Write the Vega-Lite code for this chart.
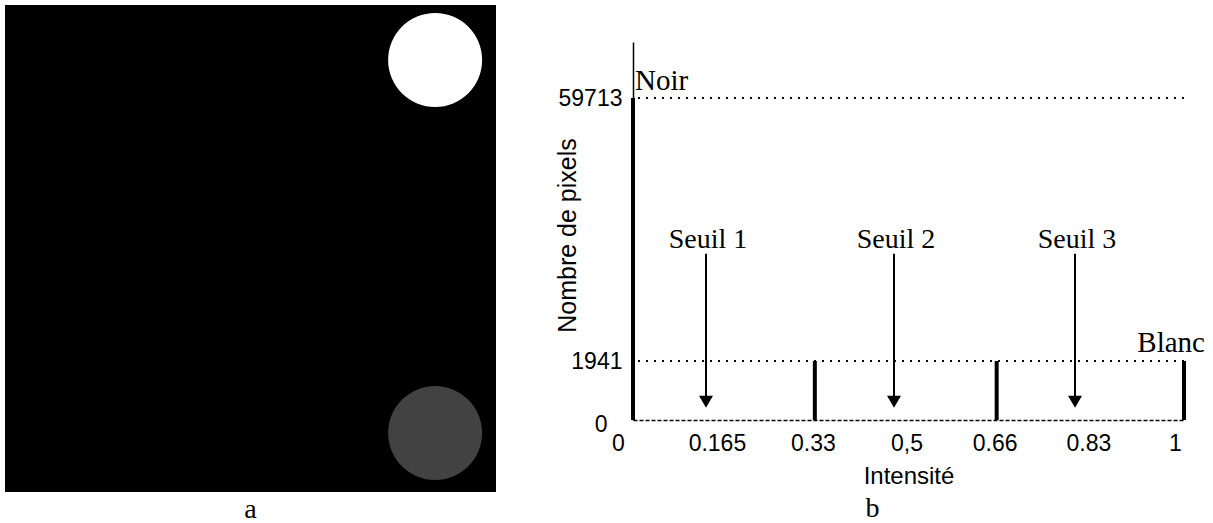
{
  "$schema": "https://vega.github.io/schema/vega-lite/v6.json",
  "background": "white",
  "padding": {"left": 5, "top": 5, "right": 0, "bottom": 0},
  "config": {"view": {"stroke": null}, "font": "Liberation Sans"},
  "spacing": 59,
  "hconcat": [
    {
      "width": 491,
      "height": 487,
      "title": {"text": "a", "orient": "bottom", "font": "Liberation Serif", "fontSize": 28, "fontWeight": "normal", "offset": 4, "color": "black"},
      "layer": [
        {
          "data": {"values": [{"objet": "fond", "x0": 0, "x1": 1, "y0": 0, "y1": 1}]},
          "mark": {"type": "rect", "color": "black"},
          "encoding": {
            "x": {"field": "x0", "type": "quantitative", "scale": {"domain": [0, 1]}, "axis": null},
            "x2": {"field": "x1"},
            "y": {"field": "y0", "type": "quantitative", "scale": {"domain": [0, 1]}, "axis": null},
            "y2": {"field": "y1"}
          }
        },
        {
          "data": {"values": [{"disque": "blanc", "x0": 0.876, "y0": 0.887}, {"disque": "bruité", "x0": 0.876, "y0": 0.121}]},
          "mark": {"type": "point", "shape": "circle", "filled": true, "size": 8836, "opacity": 1},
          "encoding": {
            "x": {"field": "x0", "type": "quantitative"},
            "y": {"field": "y0", "type": "quantitative"},
            "color": {"field": "disque", "type": "nominal", "scale": {"domain": ["blanc", "bruité"], "range": ["#ffffff", "#424242"]}, "legend": null}
          }
        }
      ]
    },
    {
      "width": 551,
      "height": 415,
      "title": {"text": "b", "orient": "bottom", "font": "Liberation Serif", "fontSize": 28, "fontWeight": "normal", "offset": 7, "dx": -36, "color": "black"},
      "layer": [
        {
          "data": {"values": [{"niveau": "Noir", "pixels": 59713}, {"niveau": "Blanc", "pixels": 1941}]},
          "mark": {"type": "rule", "strokeDash": [2, 6], "strokeWidth": 2, "color": "black"},
          "encoding": {
            "y": {
              "field": "pixels", "type": "quantitative",
              "scale": {"type": "linear", "domain": [0, 1941, 59713, 73000], "range": [415, 356, 93, 37], "nice": false, "zero": false},
              "axis": {
                "values": [0, 1941, 59713],
                "title": "Nombre de pixels",
                "ticks": false,
                "grid": false,
                "domainColor": "black",
                "domainWidth": 1.5,
                "labelFont": "Liberation Sans",
                "labelFontSize": 23,
                "labelColor": "black",
                "labelPadding": {"condition": {"test": "datum.value === 0", "value": 26}, "value": 11},
                "labelOffset": {"condition": {"test": "datum.value === 0", "value": 4}, "value": 0},
                "labelExpr": "'' + datum.value",
                "titleFont": "Liberation Sans",
                "titleFontSize": 25,
                "titleFontWeight": "normal",
                "titleColor": "black",
                "titleBaseline": "middle",
                "titleX": -66,
                "titleY": 230
              }
            }
          }
        },
        {
          "data": {"values": [{"intensite": 0, "pixels": 59713}, {"intensite": 0.33, "pixels": 1941}, {"intensite": 0.66, "pixels": 1941}, {"intensite": 1, "pixels": 1941}]},
          "mark": {"type": "rule", "strokeWidth": 4, "color": "black"},
          "encoding": {
            "x": {
              "field": "intensite", "type": "quantitative",
              "scale": {"domain": [0, 1], "nice": false, "zero": false},
              "axis": {
                "values": [0, 0.165, 0.33, 0.5, 0.66, 0.83, 1],
                "title": "Intensité",
                "ticks": false,
                "grid": false,
                "domainDash": [4, 2],
                "domainWidth": 1.5,
                "domainColor": "black",
                "labelExpr": "datum.value === 0.5 ? '0,5' : '' + datum.value",
                "labelFont": "Liberation Sans",
                "labelFontSize": 23,
                "labelColor": "black",
                "labelPadding": 12,
                "labelFlush": false,
                "labelOverlap": false,
                "labelOffset": {"condition": [{"test": "datum.value === 0", "value": -15}, {"test": "datum.value === 1", "value": -9}, {"test": "datum.value === 0.165", "value": -7}], "value": -2},
                "titleFont": "Liberation Sans",
                "titleFontSize": 24,
                "titleFontWeight": "normal",
                "titleColor": "black",
                "titlePadding": 9
              }
            },
            "y": {"field": "pixels", "type": "quantitative"},
            "y2": {"datum": 0}
          }
        },
        {
          "data": {"values": [{"seuil": "Seuil 1", "intensite": 0.1325, "haut": 25500, "pointe": 600}, {"seuil": "Seuil 2", "intensite": 0.4737, "haut": 25500, "pointe": 600}, {"seuil": "Seuil 3", "intensite": 0.8022, "haut": 25500, "pointe": 600}]},
          "layer": [
            {
              "mark": {"type": "rule", "strokeWidth": 2, "color": "black"},
              "encoding": {
                "x": {"field": "intensite", "type": "quantitative"},
                "y": {"field": "haut", "type": "quantitative"},
                "y2": {"field": "pointe"}
              }
            },
            {
              "mark": {"type": "point", "shape": "triangle-down", "filled": true, "size": 196, "color": "black", "opacity": 1},
              "encoding": {
                "x": {"field": "intensite", "type": "quantitative"},
                "y": {"field": "pointe", "type": "quantitative"}
              }
            },
            {
              "mark": {"type": "text", "font": "Liberation Serif", "fontSize": 28, "baseline": "alphabetic", "align": "center", "dy": -6, "dx": 2, "color": "black"},
              "encoding": {
                "x": {"field": "intensite", "type": "quantitative"},
                "y": {"field": "haut", "type": "quantitative"},
                "text": {"field": "seuil"}
              }
            }
          ]
        },
        {
          "data": {"values": [{"niveau": "Noir", "intensite": 0, "pixels": 59713}]},
          "mark": {"type": "text", "font": "Liberation Serif", "fontSize": 29, "baseline": "alphabetic", "align": "left", "dx": 2, "dy": -8, "color": "black"},
          "encoding": {
            "x": {"field": "intensite", "type": "quantitative"},
            "y": {"field": "pixels", "type": "quantitative"},
            "text": {"field": "niveau"}
          }
        },
        {
          "data": {"values": [{"niveau": "Blanc", "intensite": 1, "pixels": 1941}]},
          "mark": {"type": "text", "font": "Liberation Serif", "fontSize": 29, "baseline": "alphabetic", "align": "right", "dx": 21, "dy": -9, "color": "black"},
          "encoding": {
            "x": {"field": "intensite", "type": "quantitative"},
            "y": {"field": "pixels", "type": "quantitative"},
            "text": {"field": "niveau"}
          }
        }
      ]
    }
  ]
}
